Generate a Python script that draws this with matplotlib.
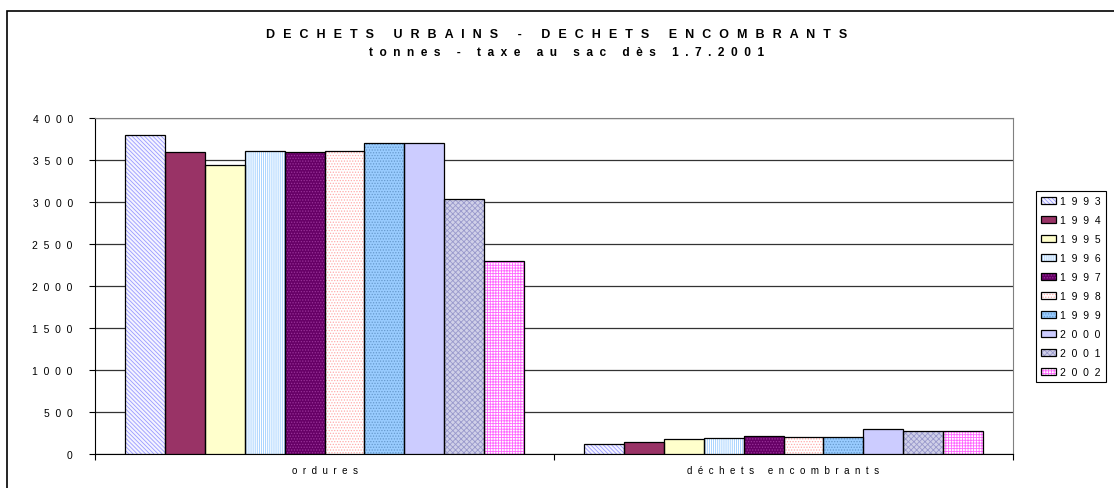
import matplotlib
matplotlib.use('Agg')
import matplotlib.pyplot as plt
import numpy as np
from matplotlib.patches import Rectangle

categories = ['ordures', 'déchets encombrants']
years = ['1993', '1994', '1995', '1996', '1997', '1998', '1999', '2000', '2001', '2002']
ordures = [3800, 3595, 3445, 3607, 3600, 3607, 3700, 3706, 3032, 2294]
encombrants = [120, 146, 175, 187, 211, 199, 199, 301, 270, 270]
yticks = [0, 500, 1000, 1500, 2000, 2500, 3000, 3500, 4000]

# face, hatch colour, hatch pattern per year
styles = [
    ('#F4F4FF', '#9999FF', '\\\\\\\\\\\\\\\\'),
    ('#993366', '#993366', None),
    ('#FFFFCC', '#FFFFCC', None),
    ('white', '#99CCFF', '||||||||'),
    ('#660066', '#993399', '......'),
    ('white', '#FFAAAA', '......'),
    ('#99CCFF', '#6699CC', '......'),
    ('#CCCCFF', '#CCCCFF', None),
    ('#D0D0E8', '#9999CC', 'xxxxxx'),
    ('white', '#FF66FF', '++++++'),
]


def spaced(s, sep='  '):
    # Excel-style letter spacing
    return sep.join(s)


plt.rcParams['font.family'] = ['Liberation Sans', 'DejaVu Sans']
plt.rcParams['hatch.linewidth'] = 0.6

fig = plt.figure(figsize=(11.14, 4.89), dpi=100)
ax = fig.add_axes([95 / 1114, 1 - 455 / 489, (1013 - 95) / 1114, (455 - 119) / 489])

x = np.arange(len(categories))
w = 0.087
handles = []
for i, yr in enumerate(years):
    face, hcol, hatch = styles[i]
    vals = [ordures[i], encombrants[i]]
    pos = x + (i - 4.5) * w
    b1 = ax.bar(pos, vals, w, color=face, edgecolor=hcol, hatch=hatch, linewidth=0, zorder=3)
    b2 = ax.bar(pos, vals, w, facecolor='none', edgecolor='black', linewidth=0.9, zorder=4)
    handles.append((b1[0], b2[0]))

ax.set_xlim(-0.5, 1.5)
ax.set_ylim(0, 4000)
ax.set_yticks(yticks)
ax.set_yticklabels([spaced(str(v)) for v in yticks], fontsize=7.5)
ax.grid(axis='y', color='#333333', linewidth=0.9, zorder=1)
ax.set_xticks([-0.5, 0.5, 1.5])
ax.set_xticklabels([])
ax.set_xticks(x, minor=True)
ax.set_xticklabels([spaced(c) for c in categories], minor=True, fontsize=7)
ax.tick_params(axis='x', which='minor', length=0, pad=8)
ax.tick_params(axis='x', which='major', length=4, direction='out')
ax.tick_params(axis='y', length=4, direction='out', pad=12)
for s in ['top', 'right']:
    ax.spines[s].set_color('#808080')
ax.spines['left'].set_color('black')
ax.spines['bottom'].set_color('black')

leg = fig.legend(handles, [spaced(y) for y in years], loc='upper left',
                 bbox_to_anchor=(1036 / 1114, 1 - 192 / 489), fontsize=7.5,
                 frameon=True, fancybox=False, edgecolor='black', framealpha=1,
                 handlelength=1.45, handleheight=0.7, handletextpad=0.35,
                 labelspacing=0.86, borderpad=0.5, borderaxespad=0)
leg.get_frame().set_linewidth(0.8)

fig.text(0.4995, 1 - 35 / 489, spaced('DECHETS URBAINS - DECHETS ENCOMBRANTS', '  \u200a'),
         ha='center', va='center', fontsize=9, fontweight='bold')
fig.text(0.509, 1 - 53 / 489, spaced('tonnes - taxe au sac dès 1.7.2001'),
         ha='center', va='center', fontsize=8.6, fontweight='bold')

fig.add_artist(Rectangle((7 / 1114, -0.05), 1.1, 1 - 12 / 489 + 0.05, transform=fig.transFigure,
                         facecolor='none', edgecolor='black', linewidth=1.2))

fig.savefig('out.png', dpi=100)
